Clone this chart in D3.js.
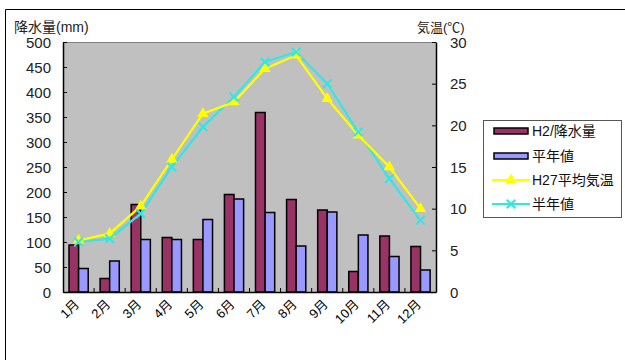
<!DOCTYPE html>
<html><head><meta charset="utf-8">
<script src="https://cdn.jsdelivr.net/npm/d3@7"></script>
<style>body{margin:0;background:#fff}svg{display:block}text{font-family:"Liberation Sans","Noto Sans CJK JP",sans-serif}</style>
</head><body><svg id="c" width="625" height="360"></svg>
<script>
const months = ["1月","2月","3月","4月","5月","6月","7月","8月","9月","10月","11月","12月"];
const rainH27 = [94,27,175,109,105,195,359,185,164,41,112,91];
const rainNormal = [47,62,105,105,145,186,159,92,160,114,71,44];
const tempH27 = [6.2,7.0,10.3,15.9,21.4,22.8,26.8,28.4,23.2,18.8,15.0,10.0];
const tempNormal = [6.0,6.4,9.4,15.0,19.8,23.4,27.6,28.8,25.0,19.2,13.6,8.6];
const leftTicks = [0,50,100,150,200,250,300,350,400,450,500];
const rightTicks = [0,5,10,15,20,25,30];
const legendLabels = ["H2/降水量","平年値","H27平均気温","半年値"];

const svg = d3.select("#c");
const L=63,R=436,T=42,B=292;
const x = d3.scaleBand().domain(months).range([L,R]);
const yL = d3.scaleLinear().domain([0,500]).range([B,T]);
const yR = d3.scaleLinear().domain([0,30]).range([B,T]);
const col = {rain:"#993366",norm:"#9999ff",yel:"#ffff00",cyan:"#33e6e6"};

// outer frame
svg.append("path").attr("d","M5.5,360 V9.5 H625").attr("fill","none").attr("stroke","#000").attr("stroke-width",1);

// plot bg
svg.append("rect").attr("x",L).attr("y",T).attr("width",R-L).attr("height",B-T).attr("fill","#c0c0c0");
svg.append("line").attr("x1",L).attr("x2",R).attr("y1",T+0.5).attr("y2",T+0.5).attr("stroke","#808080");

// bars
const bw = 9.6, off = 6;
const g = svg.append("g");
g.selectAll("rect.a").data(rainH27).join("rect")
  .attr("x",(d,i)=>x(months[i])+off).attr("y",d=>yL(d)).attr("width",bw).attr("height",d=>B-yL(d))
  .attr("fill",col.rain).attr("stroke","#000").attr("stroke-width",1.5);
g.selectAll("rect.b").data(rainNormal).join("rect")
  .attr("x",(d,i)=>x(months[i])+off+bw).attr("y",d=>yL(d)).attr("width",bw).attr("height",d=>B-yL(d))
  .attr("fill",col.norm).attr("stroke","#000").attr("stroke-width",1.5);

// axes
const axL = svg.append("g").attr("transform",`translate(${L},0)`)
  .call(d3.axisLeft(yL).tickValues(leftTicks).tickSizeInner(-4).tickSizeOuter(0).tickPadding(12));
const axR = svg.append("g").attr("transform",`translate(${R},0)`)
  .call(d3.axisRight(yR).tickValues(rightTicks).tickSizeInner(-4).tickSizeOuter(0).tickPadding(14));
const axB = svg.append("g").attr("transform",`translate(0,${B})`)
  .call(d3.axisBottom(x).tickSize(0).tickPadding(0));
[axL,axR,axB].forEach(a=>{a.select(".domain").attr("stroke","#000").attr("stroke-width",1.5);a.selectAll("line").attr("stroke","#000");});
axL.selectAll("text").attr("font-size",15).attr("fill","#222").attr("dy","0.35em");
axR.selectAll("text").attr("font-size",15).attr("fill","#222").attr("dy","0.35em");
// x band boundary ticks
svg.append("g").selectAll("line").data(months.slice(1)).join("line")
  .attr("x1",d=>x(d)).attr("x2",d=>x(d)).attr("y1",B).attr("y2",B-4).attr("stroke","#000");
axB.selectAll("text").attr("font-size",13).attr("fill","#000")
  .attr("text-anchor","end").attr("dy",0)
  .attr("transform",`translate(1.5,13) rotate(-45)`);

// lines
const lineL = d3.line().x((d,i)=>x(months[i])+x.bandwidth()/2).y(d=>yR(d));
svg.append("path").datum(tempNormal).attr("d",lineL).attr("fill","none").attr("stroke",col.cyan).attr("stroke-width",2.2);
svg.append("path").datum(tempH27).attr("d",lineL).attr("fill","none").attr("stroke",col.yel).attr("stroke-width",2.2);
const tri = d3.symbol().type(d3.symbolTriangle).size(55);
svg.append("g").selectAll("path").data(tempH27).join("path")
  .attr("d",tri).attr("fill",col.yel)
  .attr("transform",(d,i)=>`translate(${x(months[i])+x.bandwidth()/2},${yR(d)})`);
const xm = d3.symbol().type(d3.symbolX).size(50);
svg.append("g").selectAll("path").data(tempNormal).join("path")
  .attr("d",xm).attr("fill","none").attr("stroke",col.cyan).attr("stroke-width",2)
  .attr("transform",(d,i)=>`translate(${x(months[i])+x.bandwidth()/2},${yR(d)})`);

// axis titles
svg.append("text").attr("x",14).attr("y",32).attr("font-size",14).attr("fill","#222").text("降水量(mm)");
svg.append("text").attr("x",417).attr("y",32).attr("font-size",13).attr("fill","#222").text("気温(℃)");

// legend
const lg = svg.append("g");
lg.append("rect").attr("x",483.5).attr("y",120.5).attr("width",138).attr("height",97).attr("fill","#fff").attr("stroke","#555");
const ly = [131,156,180,204];
lg.append("rect").attr("x",494).attr("y",ly[0]-3).attr("width",34).attr("height",6).attr("fill",col.rain).attr("stroke","#000").attr("stroke-width",1.5);
lg.append("rect").attr("x",494).attr("y",ly[1]-3).attr("width",34).attr("height",6).attr("fill",col.norm).attr("stroke","#000").attr("stroke-width",1.5);
lg.append("line").attr("x1",492).attr("x2",530).attr("y1",ly[2]).attr("y2",ly[2]).attr("stroke",col.yel).attr("stroke-width",2);
lg.append("path").attr("d",tri).attr("fill",col.yel).attr("transform",`translate(511,${ly[2]})`);
lg.append("line").attr("x1",492).attr("x2",530).attr("y1",ly[3]).attr("y2",ly[3]).attr("stroke",col.cyan).attr("stroke-width",2);
lg.append("path").attr("d",xm).attr("fill","none").attr("stroke",col.cyan).attr("stroke-width",2).attr("transform",`translate(511,${ly[3]})`);
lg.selectAll("text.l").data(legendLabels).join("text")
  .attr("x",532).attr("y",(d,i)=>ly[i]).attr("dy","0.35em").attr("font-size",14).attr("fill","#111").text(d=>d);
</script></body></html>
